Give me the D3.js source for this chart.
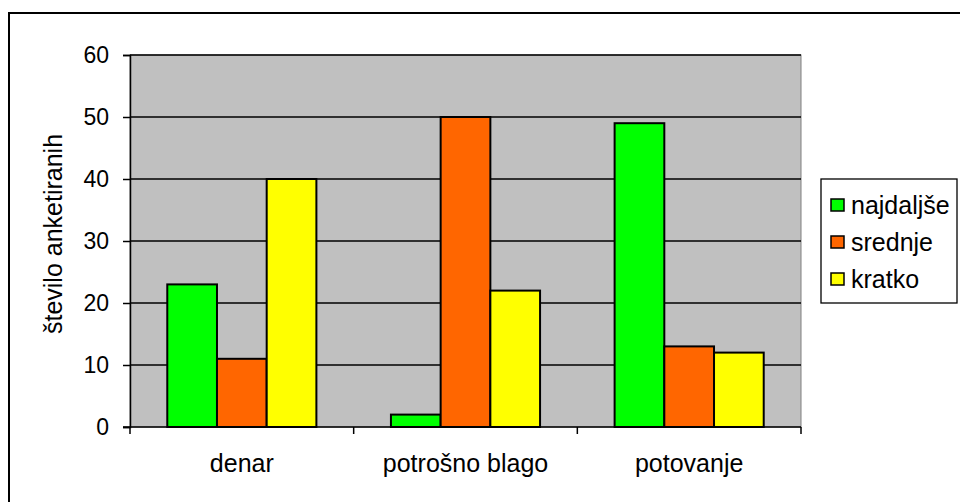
<!doctype html>
<html lang="sl">
<head>
    <meta charset="UTF-8">
    <title>D3</title>
    <script src="https://cdn.jsdelivr.net/npm/d3@7"></script>
    <style>
        body { margin: 0; background: #fff; }
        text { font-family: "Liberation Sans", Arial, sans-serif; fill: #000; }
    </style>
</head>
<body>
<div class="canvas"></div>
<script>
  // podatki
  const categories = ['denar', 'potrošno blago', 'potovanje'];
  const series = ['najdaljše', 'srednje', 'kratko'];
  const colors = ['#00ff00', '#ff6600', '#ffff00'];
  const najdaljse = [23, 2, 49];
  const srednje = [11, 50, 13];
  const kratko = [40, 22, 12];
  const yTicks = [0, 10, 20, 30, 40, 50, 60];
  const yTitle = 'število anketiranih';

  const values = [najdaljse, srednje, kratko];

  const svg = d3.select('.canvas').append('svg')
    .attr('width', 960)
    .attr('height', 502);

  // okvir
  svg.append('rect')
    .attr('x', 9).attr('y', 13)
    .attr('width', 960).attr('height', 500)
    .attr('fill', '#fff')
    .attr('stroke', '#000')
    .attr('stroke-width', 2);

  let [mt, mr, mb, ml] = [55, 159, 75, 130];
  const plotW = 960 - ml - mr;
  const plotH = 502 - mt - mb;

  const x = d3.scaleBand()
    .domain(categories)
    .range([ml, ml + plotW])
    .paddingInner(1 / 3)
    .paddingOuter(1 / 6);

  const xs = d3.scaleBand()
    .domain(series)
    .range([0, x.bandwidth()]);

  const y = d3.scaleLinear()
    .domain([0, 60])
    .range([mt + plotH, mt]);

  // ozadje
  svg.append('rect')
    .attr('x', ml).attr('y', mt)
    .attr('width', plotW).attr('height', plotH)
    .attr('fill', '#c0c0c0')
    .attr('stroke', '#808080')
    .attr('stroke-width', 1);

  // mreža
  svg.append('g')
    .selectAll('line')
    .data(yTicks.filter(t => t > 0))
    .enter()
    .append('line')
    .attr('x1', ml).attr('x2', ml + plotW)
    .attr('y1', d => y(d)).attr('y2', d => y(d))
    .attr('stroke', '#000')
    .attr('stroke-width', 1.3);

  // stolpci
  const groups = svg.append('g')
    .selectAll('g')
    .data(categories)
    .enter()
    .append('g')
    .attr('transform', d => `translate(${x(d)},0)`);

  groups.selectAll('rect')
    .data((c, ci) => series.map((s, si) => ({ s, si, v: values[si][ci] })))
    .enter()
    .append('rect')
    .attr('x', d => xs(d.s))
    .attr('y', d => y(d.v))
    .attr('width', xs.bandwidth())
    .attr('height', d => y(0) - y(d.v))
    .attr('fill', d => colors[d.si])
    .attr('stroke', '#000')
    .attr('stroke-width', 2);

  // y os
  const yAxis = d3.axisLeft(y)
    .tickValues(yTicks)
    .tickSize(7)
    .tickPadding(14);
  const yAxisG = svg.append('g')
    .attr('transform', `translate(${ml},0)`)
    .call(yAxis);
  yAxisG.select('.domain').attr('stroke', '#000').attr('stroke-width', 1.5);
  yAxisG.selectAll('.tick line').attr('stroke', '#000').attr('stroke-width', 1.5);
  yAxisG.selectAll('text')
    .style('font-size', '23px')
    .style('font-family', '"Liberation Sans", Arial, sans-serif')
    .attr('fill', '#000');

  // x os
  svg.append('line')
    .attr('x1', ml - 7).attr('x2', ml + plotW)
    .attr('y1', y(0)).attr('y2', y(0))
    .attr('stroke', '#000').attr('stroke-width', 1.5);

  const bounds = [ml].concat(categories.map((c, i) => ml + x.step() * (i + 1)));
  svg.append('g')
    .selectAll('line')
    .data(bounds)
    .enter()
    .append('line')
    .attr('x1', d => d).attr('x2', d => d)
    .attr('y1', y(0)).attr('y2', y(0) + 7)
    .attr('stroke', '#000').attr('stroke-width', 1.5);

  svg.append('g')
    .selectAll('text')
    .data(categories)
    .enter()
    .append('text')
    .attr('x', d => x(d) + x.bandwidth() / 2)
    .attr('y', y(0) + 45)
    .attr('text-anchor', 'middle')
    .style('font-size', '25px')
    .text(d => d);

  // naslov y osi
  svg.append('text')
    .attr('transform', `translate(62, 234) rotate(-90)`)
    .attr('text-anchor', 'middle')
    .style('font-size', '25px')
    .text(yTitle);

  // legenda
  const legend = svg.append('g')
    .attr('transform', 'translate(821, 179)');

  legend.append('rect')
    .attr('width', 136).attr('height', 124)
    .attr('fill', '#fff')
    .attr('stroke', '#000')
    .attr('stroke-width', 1.3);

  const items = legend.selectAll('g.item')
    .data(series)
    .enter()
    .append('g')
    .attr('class', 'item')
    .attr('transform', (d, i) => `translate(10, ${26 + i * 37})`);

  items.append('rect')
    .attr('x', 0).attr('y', -6)
    .attr('width', 13).attr('height', 12)
    .attr('fill', (d, i) => colors[i])
    .attr('stroke', '#000')
    .attr('stroke-width', 1.5);

  items.append('text')
    .attr('x', 20)
    .attr('y', 9)
    .style('font-size', '25px')
    .text(d => d);
</script>
</body>
</html>
